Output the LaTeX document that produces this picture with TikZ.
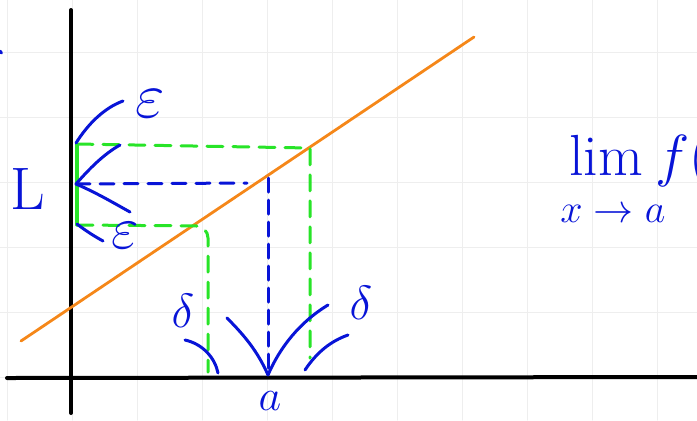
\RequirePackage{fix-cm}
\documentclass[tikz,border=0pt]{standalone}
\definecolor{InkBlue}{RGB}{8,20,215}
\definecolor{InkGreen}{RGB}{40,228,40}
\definecolor{InkOrange}{RGB}{245,135,25}
\definecolor{GridGray}{RGB}{238,238,238}
\usetikzlibrary{arrows.meta,positioning,calc}
\tikzset{
  ink/.style={InkBlue,line width=1.5pt},
  guide/.style={InkGreen,line width=1.5pt,dash pattern=on 8pt off 5pt},
  hand/.style={InkBlue,inner sep=0pt}
}

\begin{document}
\begin{tikzpicture}[x=0.5pt,y=-0.5pt,line cap=round,line join=round]
\useasboundingbox (0,0) rectangle (697,420);
\clip (0,0) rectangle (697,420);
% grid
\foreach \gx in {7,72,...,697} \draw[GridGray,line width=0.5pt] (\gx,0) -- (\gx,420);
\foreach \gy in {52,117,...,420} \draw[GridGray,line width=0.5pt] (0,\gy) -- (697,\gy);
% axes
\draw[black,line width=2pt] (71,10) -- (71,413);
\draw[black,line width=2pt] (7,378) -- (697,377);
% f(x)
\draw[InkOrange,line width=1.4pt] (21,341) -- (474,37);
% points
\coordinate (Lpt) at (76,184);
\coordinate (apt) at (268,375);
\coordinate (epsTop) at (77,144);
\coordinate (epsBot) at (77,225);
\coordinate (hitTop) at (310,148);
\coordinate (hitBot) at (208,226);
% green band
\draw[InkGreen,line width=1.6pt] (epsTop) -- (epsBot);
\draw[guide] (epsTop) -- (hitTop) -- (310,358);
\draw[guide,rounded corners=6pt] (epsBot) -- (hitBot) -- (208,372);
% blue dashed to the line
\draw[ink,dash pattern=on 7pt off 5pt] (Lpt) -- (247,183);
\draw[ink,dash pattern=on 7pt off 4pt] (268,178) -- (apt);
% epsilon strokes
\draw[ink] (76,143) .. controls (88,124) and (104,108) .. (123,101);
\draw[ink] (Lpt) .. controls (90,168) and (104,154) .. (120,145);
\draw[ink] (Lpt) .. controls (95,192) and (112,202) .. (130,212);
\draw[ink] (77,224) .. controls (86,231) and (94,236) .. (103,241);
% delta strokes
\draw[ink] (227,318) .. controls (245,336) and (258,352) .. (apt);
\draw[ink] (apt) .. controls (280,347) and (300,322) .. (328,305);
\draw[ink] (185,340) .. controls (203,344) and (215,358) .. (218,373);
\draw[ink] (305,370) .. controls (317,352) and (331,341) .. (348,335);
\draw[ink] (0,51) -- (1.5,53);
% labels
\node[hand,font=\fontsize{30}{32}\selectfont] (Llab) at (28,189) {L};
\node[hand,font=\fontsize{32}{34}\selectfont] (epsUp) at (150,104) {$\varepsilon$};
\node[hand,font=\fontsize{30}{32}\selectfont] (epsLow) at (125,236) {$\varepsilon$};
\node[hand,font=\fontsize{24}{28}\selectfont] (deltaL) at (183,311) {$\delta$};
\node[hand,font=\fontsize{24}{28}\selectfont] (deltaR) at (361,303) {$\delta$};
\node[hand,font=\fontsize{22}{26}\selectfont] (alab) at (270,401) {$a$};
\node[hand,font=\fontsize{29}{32}\selectfont,anchor=base west] (limtxt) at (569,175) {lim};
\node[hand,font=\fontsize{29}{32}\selectfont,anchor=base west] (fpart) at (655,175) {$f($};
\node[hand,font=\fontsize{20}{24}\selectfont,anchor=base west] (limsub) at (560,222) {$x\to a$};
\end{tikzpicture}
\end{document}
